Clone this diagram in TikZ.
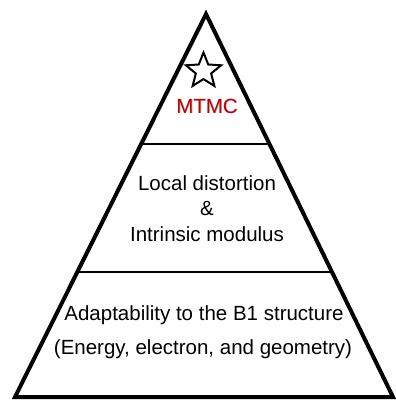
\documentclass[tikz,border=0pt]{standalone}
\usepackage{fontspec}
\setmainfont{Liberation Sans}
\usetikzlibrary{shapes.geometric}
\definecolor{mtmcred}{HTML}{C00000}
\tikzset{
  outline/.style={line width=4pt, line join=miter},
  divider/.style={line width=2pt},
  lbl/.style={font=\fontsize{20.5}{22}\selectfont, inner sep=0pt, align=center},
}
\begin{document}
\begin{tikzpicture}[x=1pt,y=-1pt]
\useasboundingbox (0,0) rectangle (396,400);
\coordinate (apex) at (206,14);
\coordinate (bl) at (15,397);
\coordinate (br) at (393,397);
% dividers
\path (apex) -- (bl) coordinate[pos=0.339] (d1l) coordinate[pos=0.673] (d2l);
\path (apex) -- (br) coordinate[pos=0.339] (d1r) coordinate[pos=0.673] (d2r);
\draw[divider] (d1l) -- (d1r);
\draw[divider] (d2l) -- (d2r);
\draw[outline] (apex) -- (bl) -- (br) -- cycle;
% star
\node[star, star points=5, star point ratio=2.3, minimum size=37pt, inner sep=0pt,
      draw=black, line width=2pt, fill=white] (star) at (203.5,71) {};
% MTMC with shadow
\node[lbl, text=black!30] (mtmcshadow) at (207.8,106.8) {MTMC};
\node[lbl, text=mtmcred] (mtmc) at (207,106) {MTMC};
% middle
\node[lbl] (local) at (207,183) {Local distortion};
\node[lbl] (amp) at (207,209) {\&};
\node[lbl] (intr) at (207,234) {Intrinsic modulus};
% bottom
\node[lbl] (adapt) at (204,315) {Adaptability to the B1 structure};
\node[lbl] (energy) at (203,349) {(Energy, electron, and geometry)};
\end{tikzpicture}
\end{document}
